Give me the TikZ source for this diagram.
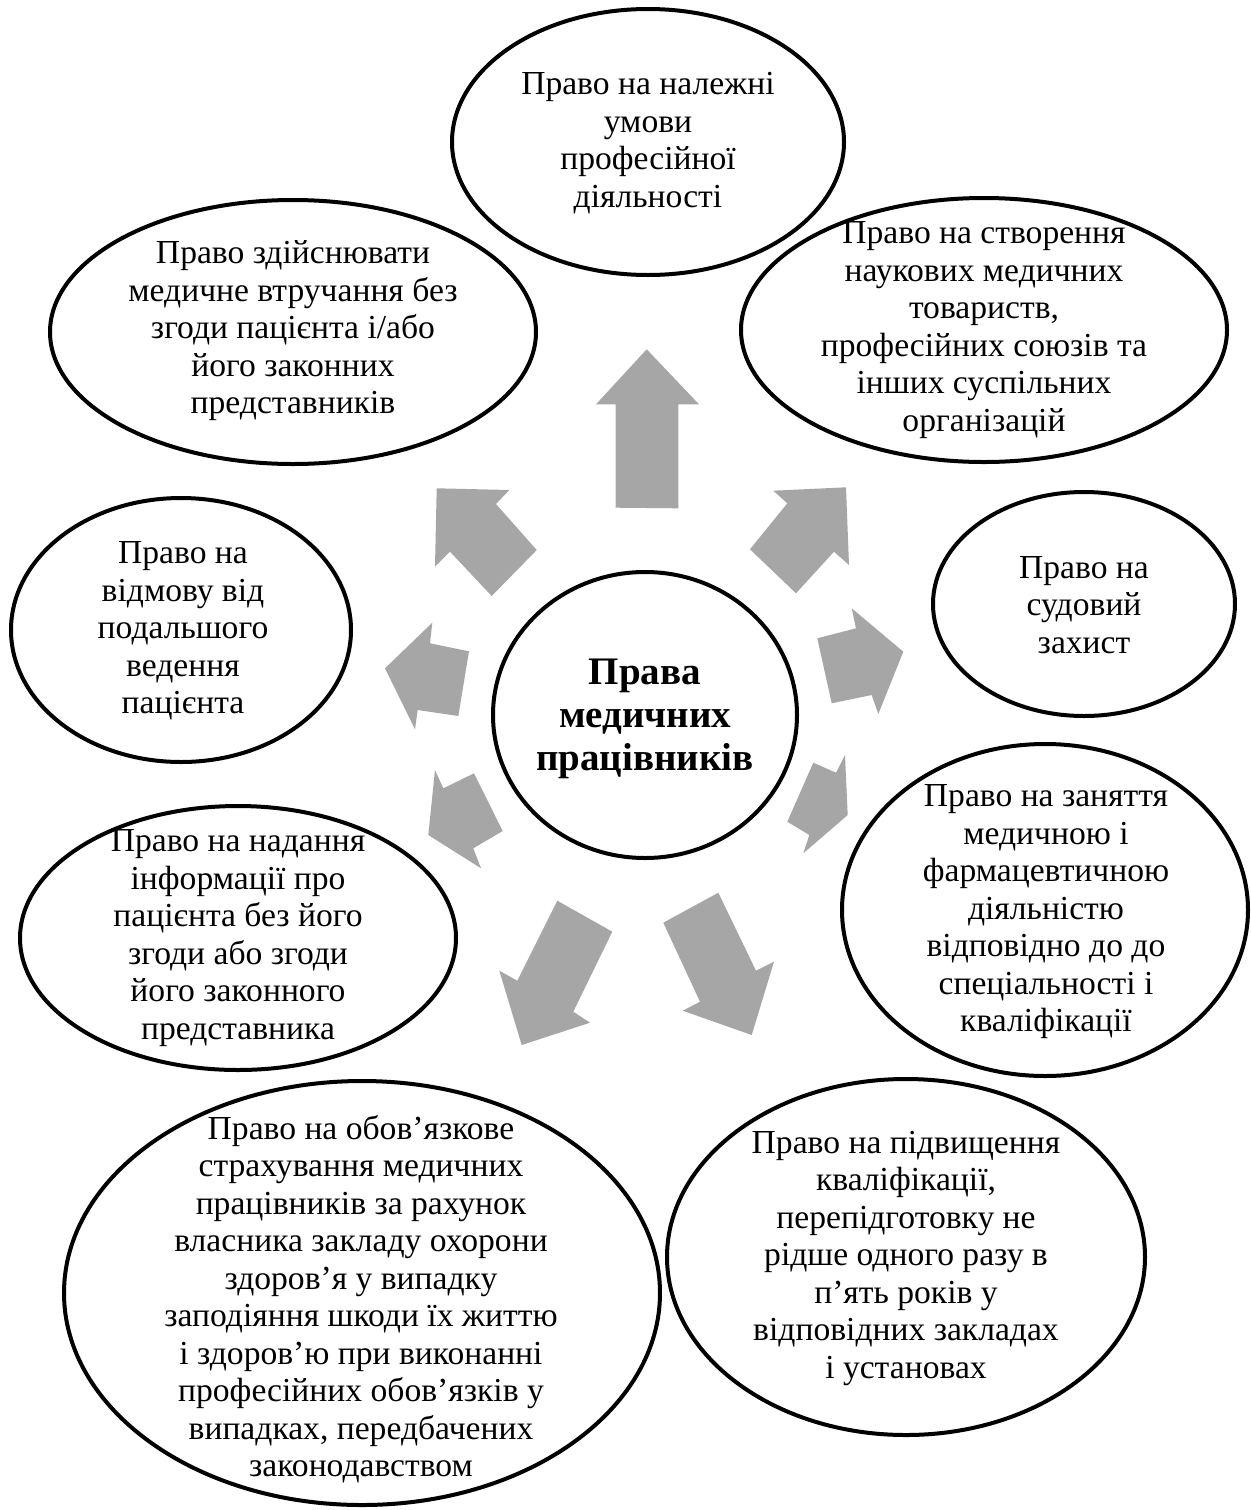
\documentclass[tikz,border=0pt]{standalone}
\usepackage{fontspec}
\setmainfont{Liberation Serif}
\usetikzlibrary{shapes.geometric}
\definecolor{arrowgray}{HTML}{A6A6A6}
\begin{document}
\begin{tikzpicture}[x=0.5pt,y=-0.5pt,
  oval/.style={ellipse, draw=black, line width=2pt, fill=white, inner sep=0pt},
  txt/.style={align=center, font=\fontsize{16.8}{18.75}\selectfont, inner sep=0pt},
  bigtxt/.style={align=center, font=\fontsize{19.5}{21.5}\selectfont\bfseries, inner sep=0pt},
  blockarrow/.style={fill=arrowgray, draw=none}]
\useasboundingbox[fill=white] (0,0) rectangle (1251,1510);

% block arrows
\fill[blockarrow] (646.7,349.3) -- (699,404.3) -- (678.3,404.3) -- (678.3,508.3) -- (615.7,507.7) -- (615.7,404.3) -- (596,404.3) -- cycle;
\fill[blockarrow] (436.7,488.3) -- (509.3,490) -- (496,504) -- (536.7,550) -- (491.7,596) -- (450,551.7) -- (435,566.7) -- cycle;
\fill[blockarrow] (846,487.3) -- (849,565) -- (834,551.7) -- (796,593.3) -- (750,549.3) -- (787.3,503.3) -- (773.3,490.7) -- cycle;
\fill[blockarrow] (385,668.3) -- (432.3,622.7) -- (430,643.3) -- (469,651.3) -- (458.3,716) -- (417.7,710) -- (415,729.3) -- cycle;
\fill[blockarrow] (903.3,651.7) -- (878.3,714) -- (871.7,695) -- (831.7,703.3) -- (817.3,638.3) -- (856,628.3) -- (851.7,608.3) -- cycle;
\fill[blockarrow] (428.3,835) -- (435,770) -- (443.3,788.3) -- (474,773.3) -- (502.7,831) -- (473.3,848.3) -- (481,868.3) -- cycle;
\fill[blockarrow] (847.7,815) -- (803.3,853.3) -- (809.3,835) -- (787.3,821.7) -- (813.3,762.7) -- (836,772.7) -- (845,755) -- cycle;
\fill[blockarrow] (521.7,1045) -- (499.3,970.7) -- (517.3,980.7) -- (557.3,900.7) -- (612.3,931.7) -- (573.3,1011.7) -- (590,1022.7) -- cycle;
\fill[blockarrow] (751.7,1035) -- (682.7,1010.7) -- (700,1001.7) -- (663.3,922.7) -- (718.3,892.7) -- (756,970.7) -- (774,961.7) -- cycle;

% ellipses
\node[oval, minimum width=196pt, minimum height=133pt] (top) at (648,142) {};
\node[oval, minimum width=243pt, minimum height=132pt] (tl) at (293,332) {};
\node[oval, minimum width=243pt, minimum height=132pt] (tr) at (984,330) {};
\node[oval, minimum width=170pt, minimum height=132pt] (lf) at (181,630) {};
\node[oval, minimum width=151pt, minimum height=112pt] (rt) at (1084,604) {};
\node[oval, minimum width=152pt, minimum height=143pt] (ctr) at (645,715) {};
\node[oval, minimum width=218pt, minimum height=132pt] (lb) at (238,938) {};
\node[oval, minimum width=203pt, minimum height=166pt] (rb) at (1045,910) {};
\node[oval, minimum width=298pt, minimum height=212pt] (bl) at (362,1293) {};
\node[oval, minimum width=239pt, minimum height=178pt] (br) at (906,1257) {};

% texts
\node[txt] (toptext) at (648,143) {Право на належні\\умови\\професійної\\діяльності};
\node[txt] (tltext) at (293,331) {Право здійснювати\\медичне втручання без\\згоди пацієнта і/або\\його законних\\представників};
\node[txt] (trtext) at (984,330) {Право на створення\\наукових медичних\\товариств,\\професійних союзів та\\інших суспільних\\організацій};
\node[txt] (lftext) at (183,631) {Право на\\відмову від\\подальшого\\ведення\\пацієнта};
\node[txt] (rttext) at (1084,605) {Право на\\судовий\\захист};
\node[bigtxt] (ctrtext) at (645,719) {Права\\медичних\\працівників};
\node[txt] (lbtext) at (238,938) {Право на надання\\інформації про\\пацієнта без його\\згоди або згоди\\його законного\\представника};
\node[txt] (rbtext) at (1046,912) {Право на заняття\\медичною і\\фармацевтичною\\діяльністю\\відповідно до до\\спеціальності і\\кваліфікації};
\node[txt] (bltext) at (361,1299) {Право на обов’язкове\\страхування медичних\\працівників за рахунок\\власника закладу охорони\\здоров’я у випадку\\заподіяння шкоди їх життю\\і здоров’ю при виконанні\\професійних обов’язків у\\випадках, передбачених\\законодавством};
\node[txt] (brtext) at (906,1258) {Право на підвищення\\кваліфікації,\\перепідготовку не\\рідше одного разу в\\п’ять років у\\відповідних закладах\\і установах};
\end{tikzpicture}
\end{document}
